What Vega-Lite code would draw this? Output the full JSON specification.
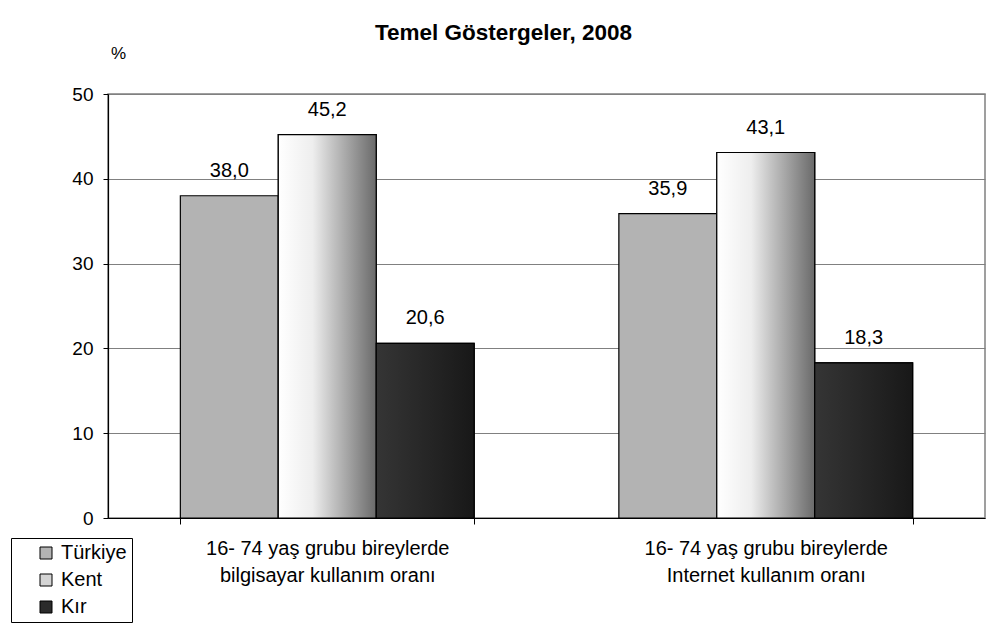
{
  "$schema": "https://vega.github.io/schema/vega-lite/v6.json",
  "width": 877,
  "height": 424,
  "autosize": {"type": "none"},
  "padding": {"left": 108, "top": 94, "right": 8, "bottom": 106},
  "background": "white",
  "title": {
    "text": "Temel Göstergeler, 2008",
    "font": "Liberation Sans",
    "fontSize": 22.5,
    "fontWeight": "bold",
    "color": "black",
    "anchor": "middle",
    "dx": -43,
    "offset": 0
  },
  "data": {
    "values": [
      {"kategori": "16- 74 yaş grubu bireylerde bilgisayar kullanım oranı", "seri": "Türkiye", "deger": 38.0},
      {"kategori": "16- 74 yaş grubu bireylerde bilgisayar kullanım oranı", "seri": "Kent", "deger": 45.2},
      {"kategori": "16- 74 yaş grubu bireylerde bilgisayar kullanım oranı", "seri": "Kır", "deger": 20.6},
      {"kategori": "16- 74 yaş grubu bireylerde Internet kullanım oranı", "seri": "Türkiye", "deger": 35.9},
      {"kategori": "16- 74 yaş grubu bireylerde Internet kullanım oranı", "seri": "Kent", "deger": 43.1},
      {"kategori": "16- 74 yaş grubu bireylerde Internet kullanım oranı", "seri": "Kır", "deger": 18.3}
    ]
  },
  "encoding": {
    "x": {
      "field": "kategori",
      "type": "nominal",
      "sort": null,
      "scale": {"paddingInner": 0.33, "paddingOuter": 0.165},
      "axis": {
        "title": null,
        "labelAngle": 0,
        "labelFont": "Liberation Sans",
        "labelFontSize": 20,
        "labelColor": "black",
        "labelLimit": 500,
        "labelPadding": 14,
        "labelLineHeight": 27,
        "labelBaseline": "top",
        "labelExpr": "[slice(datum.label, 0, 27), slice(datum.label, 28)]",
        "domainColor": "black",
        "tickColor": "black",
        "tickSize": 6,
        "tickBand": "extent",
        "grid": false
      }
    },
    "xOffset": {
      "field": "seri",
      "type": "nominal",
      "scale": {"domain": ["Türkiye", "Kent", "Kır"], "paddingInner": 0, "paddingOuter": 0}
    },
    "y": {
      "field": "deger",
      "type": "quantitative",
      "scale": {"domain": [0, 50], "nice": false},
      "axis": {
        "values": [0, 10, 20, 30, 40, 50],
        "title": "%",
        "titleAngle": 0,
        "titleX": 10,
        "titleY": -41,
        "titleAlign": "center",
        "titleBaseline": "middle",
        "titleFont": "Liberation Sans",
        "titleFontSize": 17,
        "titleFontWeight": "normal",
        "titleColor": "black",
        "labelFont": "Liberation Sans",
        "labelFontSize": 19,
        "labelColor": "black",
        "labelPadding": 10,
        "domainColor": "black",
        "tickColor": "black",
        "tickSize": 5,
        "gridColor": "#808080",
        "gridOpacity": 1
      }
    }
  },
  "layer": [
    {
      "mark": {"type": "bar", "stroke": "black", "strokeWidth": 1.2},
      "encoding": {
        "color": {
          "field": "seri",
          "type": "nominal",
          "scale": {"domain": ["Türkiye", "Kent", "Kır"], "range": ["#b3b3b3", "#d4d4d4", "#2b2b2b"]},
          "legend": {
            "title": null,
            "orient": "none",
            "legendX": -97,
            "legendY": 444,
            "fillColor": "white",
            "strokeColor": "black",
            "padding": 5,
            "symbolOffset": 20,
            "symbolType": "square",
            "symbolSize": 144,
            "symbolStrokeColor": "black",
            "symbolStrokeWidth": 1,
            "labelFont": "Liberation Sans",
            "labelFontSize": 20,
            "labelColor": "black",
            "labelOffset": 5,
            "rowPadding": 7
          }
        }
      }
    },
    {
      "transform": [{"filter": "datum.seri === 'Kent'"}],
      "mark": {
        "type": "bar",
        "stroke": "black",
        "strokeWidth": 1.2,
        "color": {
          "gradient": "linear",
          "x1": 0, "y1": 0, "x2": 1, "y2": 0,
          "stops": [
            {"offset": 0, "color": "#ffffff"},
            {"offset": 0.35, "color": "#eeeeee"},
            {"offset": 0.55, "color": "#c4c4c4"},
            {"offset": 0.8, "color": "#929292"},
            {"offset": 1, "color": "#6a6a6a"}
          ]
        }
      }
    },
    {
      "transform": [{"filter": "datum.seri === 'Kır'"}],
      "mark": {
        "type": "bar",
        "stroke": "black",
        "strokeWidth": 1.2,
        "color": {
          "gradient": "linear",
          "x1": 0, "y1": 0, "x2": 1, "y2": 0,
          "stops": [
            {"offset": 0, "color": "#353535"},
            {"offset": 1, "color": "#181818"}
          ]
        }
      }
    },
    {
      "mark": {"type": "text", "dy": -15, "baseline": "bottom", "font": "Liberation Sans", "fontSize": 20, "color": "black"},
      "encoding": {
        "text": {"field": "deger", "type": "quantitative", "format": ".1f"}
      }
    }
  ],
  "config": {
    "locale": {"number": {"decimal": ",", "thousands": ".", "grouping": [3], "currency": ["", " TL"]}},
    "view": {"stroke": "#808080", "strokeWidth": 1.5},
    "axis": {"domainWidth": 1.2}
  }
}
